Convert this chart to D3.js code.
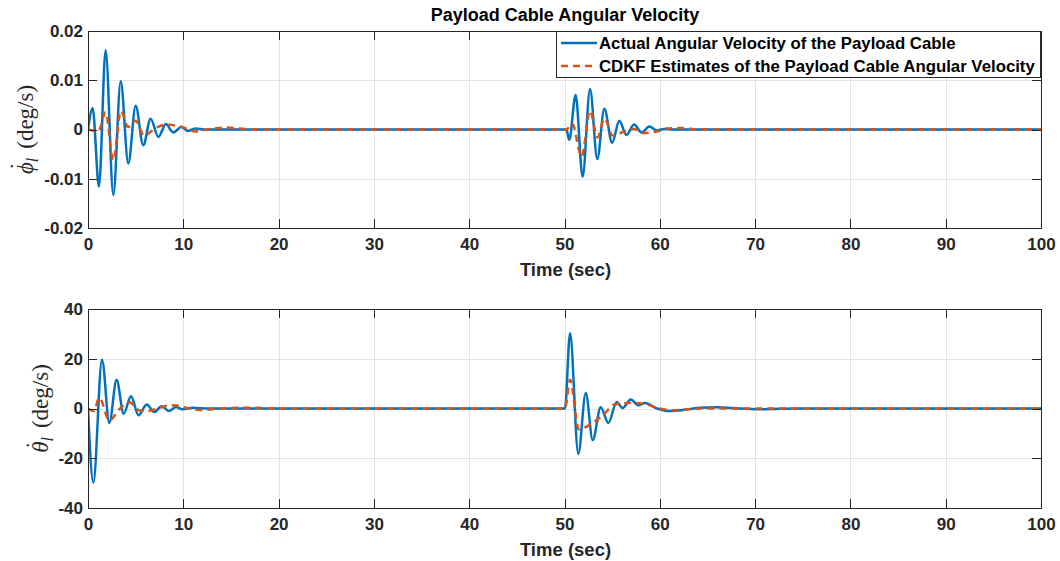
<!DOCTYPE html>
<html>
<head>
<meta charset="utf-8">
<script src="https://cdn.jsdelivr.net/npm/d3@7"></script>
<style>
  body { margin: 0; background: #fff; }
  svg { display: block; font-family: "Liberation Sans", Arial, sans-serif; }
</style>
</head>
<body>
<svg id="chart" width="1060" height="561"></svg>
<script>
// values: [time (sec), value]
const phiActual = [
  [0, 0], [0.49, 0.0043], [1.15, -0.0116], [1.85, 0.0161], [2.66, -0.0133], [3.43, 0.0098],
  [4.23, -0.0069], [5.0, 0.0048], [5.8, -0.0032], [6.57, 0.0022], [7.38, -0.0015], [8.18, 0.0011],
  [8.95, -0.0006], [9.8, 0.0005], [10.5, -0.0003], [11.3, 0.0002], [12.2, 0],
  [50.2, 0], [50.5, -0.0021], [51.17, 0.007], [51.9, -0.0096], [52.68, 0.0082], [53.44, -0.006],
  [54.18, 0.0042], [55.0, -0.0027], [55.75, 0.0018], [56.5, -0.0011], [57.3, 0.001], [58.1, -0.0006],
  [58.9, 0.0006], [59.7, -0.0002], [60.4, 0.0001], [61.5, 0], [100, 0]
]
const phiEstimate = [
  [0, 0], [1.1, -0.0003], [1.85, 0.0035], [2.65, -0.0063], [3.45, 0.0038], [4.2, 0.0005],
  [5.0, 0.0018], [5.9, -0.0013], [7.0, 0.0002], [8.2, 0.001], [9.7, 0.0006], [11.3, -0.0004],
  [12.5, 0], [14.5, 0.0004], [16.5, 0.0001], [18, 0],
  [50.2, 0], [50.8, 0.0012], [51.8, -0.0055], [52.68, 0.0038], [53.45, -0.0016], [54.2, 0.0022],
  [55.05, -0.0012], [56.3, -0.0004], [57.3, 0.0001], [58.1, -0.0007], [59.7, -0.0004],
  [60.7, 0.0002], [62.4, 0.0003], [64, 0], [100, 0]
]
const thetaActual = [
  [0, 0], [0.56, -29.8], [1.47, 19.6], [2.24, -5.8], [3.0, 11.6], [3.74, -2.1], [4.51, 4.9],
  [5.3, -2.7], [6.16, 1.6], [6.96, -1.4], [7.73, 0.9], [8.5, -1.0], [9.23, 0.6], [9.9, -0.3],
  [11, 0.3], [12.5, 0],
  [50.05, 0], [50.58, 30.3], [51.45, -18.2], [52.23, 6.2], [52.96, -12.7], [53.8, 0.5], [54.6, -5.8],
  [55.48, 2.6], [56.1, 0.2], [56.95, 3.6], [57.75, 1.3], [58.45, 2.2], [59.7, 0], [61, -1.0],
  [62.8, -0.4], [64.2, 0.3], [66, 0.5], [68.5, 0], [71, -0.3], [74, 0], [100, 0]
]
const thetaEstimate = [
  [0, 0], [0.6, -1], [1.19, 4.3], [2.24, -4.8], [3.3, -0.3], [4.34, 2.5], [5.4, -0.8], [6.2, -1.0],
  [7.3, 0], [8.7, 1.3], [9.3, 1.2], [10.3, 0.3], [11.75, -0.6], [14, 0], [16, 0.3], [18.4, 0.2], [20, 0],
  [50.05, 0], [50.58, 11.6], [51.5, -8.4], [52.7, -6.4], [54.1, -2.4], [55.3, 1.7], [57.2, 2.3],
  [58.6, 1.6], [60, 0], [61.4, -0.7], [63, -0.3], [64.9, 0], [100, 0]
]

const xTicks = [0, 10, 20, 30, 40, 50, 60, 70, 80, 90, 100]
const phiTicks = [-0.02, -0.01, 0, 0.01, 0.02]
const thetaTicks = [-40, -20, 0, 20, 40]
const legendLabels = [
  "Actual Angular Velocity of the Payload Cable",
  "CDKF Estimates of the Payload Cable Angular Velocity"
]

const BLUE = "#0072BD"
const ORANGE = "#D95319"
const AXIS = "#262626"
const GRID = "#e3e3e3"

const svg = d3.select("#chart")

svg.append("text")
  .attr("x", 565).attr("y", 21)
  .attr("text-anchor", "middle")
  .attr("font-size", 18).attr("font-weight", "bold")
  .attr("fill", "#000")
  .text("Payload Cable Angular Velocity")

// matlab prints a plain hyphen for negatives
const plain = f => d => f(d).replace("\u2212", "-")

function drawPanel({ top, bottom, yDomain, yTicks, yFormat, actual, estimate, symbol, labelX, dotLift }) {
  const left = 88, right = 1041
  const x = d3.scaleLinear().domain([0, 100]).range([left, right])
  const y = d3.scaleLinear().domain(yDomain).range([bottom, top])
  const g = svg.append("g")

  // grid
  g.append("g").selectAll("line").data(xTicks.slice(1, -1)).enter().append("line")
    .attr("x1", d => Math.round(x(d)) + 0.5).attr("x2", d => Math.round(x(d)) + 0.5)
    .attr("y1", top).attr("y2", bottom)
    .attr("stroke", GRID).attr("stroke-width", 1)
  g.append("g").selectAll("line").data(yTicks.slice(1, -1)).enter().append("line")
    .attr("y1", d => Math.round(y(d)) + 0.5).attr("y2", d => Math.round(y(d)) + 0.5)
    .attr("x1", left).attr("x2", right)
    .attr("stroke", GRID).attr("stroke-width", 1)

  // data
  const line = d3.line()
    .curve(d3.curveMonotoneX)
    .x(d => x(d[0]))
    .y(d => y(d[1]))
  const clipId = "clip" + top
  g.append("clipPath").attr("id", clipId)
    .append("rect").attr("x", left).attr("y", top).attr("width", right - left).attr("height", bottom - top)
  const plot = g.append("g").attr("clip-path", `url(#${clipId})`)
  plot.append("path").datum(actual)
    .attr("fill", "none").attr("stroke", BLUE).attr("stroke-width", 2.5)
    .attr("stroke-linejoin", "round")
    .attr("d", line)
  plot.append("path").datum(estimate)
    .attr("fill", "none").attr("stroke", ORANGE).attr("stroke-width", 2.5)
    .attr("stroke-dasharray", "7,5")
    .attr("d", line)

  // axes with inward ticks on all four sides
  const bottomAxis = d3.axisBottom(x).tickValues(xTicks).tickSizeInner(-9).tickSizeOuter(0).tickPadding(13)
  const topAxis = d3.axisTop(x).tickValues(xTicks).tickSizeInner(-9).tickSizeOuter(0).tickFormat("")
  const leftAxis = d3.axisLeft(y).tickValues(yTicks).tickSizeInner(-9).tickSizeOuter(0).tickPadding(5).tickFormat(yFormat)
  const rightAxis = d3.axisRight(y).tickValues(yTicks).tickSizeInner(-9).tickSizeOuter(0).tickFormat("")

  const axes = [
    g.append("g").attr("transform", `translate(0,${bottom})`).call(bottomAxis),
    g.append("g").attr("transform", `translate(0,${top})`).call(topAxis),
    g.append("g").attr("transform", `translate(${left},0)`).call(leftAxis),
    g.append("g").attr("transform", `translate(${right},0)`).call(rightAxis)
  ]
  axes.forEach(a => {
    a.attr("font-family", null).attr("font-size", 17).attr("font-weight", "bold")
    a.selectAll("path, line").attr("stroke", AXIS).attr("shape-rendering", "crispEdges")
    a.selectAll("text").attr("fill", AXIS)
  })
  axes[0].selectAll("text").attr("dy", "0.55em")

  g.append("text")
    .attr("x", (left + right) / 2 + 1).attr("y", bottom + 48)
    .attr("text-anchor", "middle")
    .attr("font-size", 18.5).attr("font-weight", "bold").attr("fill", AXIS)
    .text("Time (sec)")

  // y label: dotted greek symbol with subscript l, in a serif face
  const lab = g.append("g")
    .attr("transform", `translate(${labelX},${(top + bottom) / 2}) rotate(-90)`)
    .attr("font-family", "'Liberation Serif', 'DejaVu Serif', serif")
    .attr("fill", AXIS)
  const yl = lab.append("text")
    .attr("text-anchor", "middle")
    .attr("font-size", 23)
  yl.append("tspan").attr("font-style", "italic").text(symbol)
  yl.append("tspan").attr("font-style", "italic").attr("font-size", 16).attr("dy", 5).text("l")
  yl.append("tspan").attr("dy", -5).attr("dx", 9).text("(deg/s)")
  const ext = yl.node().getExtentOfChar(0)
  lab.append("text")
    .attr("x", ext.x + ext.width / 2 + 2).attr("y", -dotLift)
    .attr("text-anchor", "middle")
    .attr("font-size", 14).attr("font-weight", "bold")
    .text(".")

  return { x, y, g }
}

drawPanel({
  top: 31, bottom: 228,
  yDomain: [-0.02, 0.02], yTicks: phiTicks,
  yFormat: plain(d => d === 0 ? "0" : d3.format(".2f")(d)),
  actual: phiActual, estimate: phiEstimate, symbol: "\u03d5",
  labelX: 33, dotLift: 20
})
drawPanel({
  top: 309, bottom: 508,
  yDomain: [-40, 40], yTicks: thetaTicks,
  yFormat: plain(d3.format("d")),
  actual: thetaActual, estimate: thetaEstimate, symbol: "\u03b8",
  labelX: 48, dotLift: 19
})

// legend
const legend = svg.append("g")
legend.append("rect")
  .attr("x", 556.5).attr("y", 31.5).attr("width", 484).attr("height", 46)
  .attr("fill", "#fff").attr("stroke", AXIS).attr("stroke-width", 1)
const rows = legend.selectAll("g.row").data(legendLabels).enter().append("g")
  .attr("class", "row")
  .attr("transform", (d, i) => `translate(0,${43 + i * 23})`)
rows.append("line")
  .attr("x1", 561).attr("x2", 597).attr("y1", 0).attr("y2", 0)
  .attr("stroke", (d, i) => i === 0 ? BLUE : ORANGE)
  .attr("stroke-width", 2.5)
  .attr("stroke-dasharray", (d, i) => i === 0 ? null : "7,5")
rows.append("text")
  .attr("x", 599).attr("y", 0).attr("dy", "0.35em")
  .attr("font-size", 16.8).attr("font-weight", "bold").attr("fill", "#000")
  .text(d => d)
</script>
</body>
</html>
